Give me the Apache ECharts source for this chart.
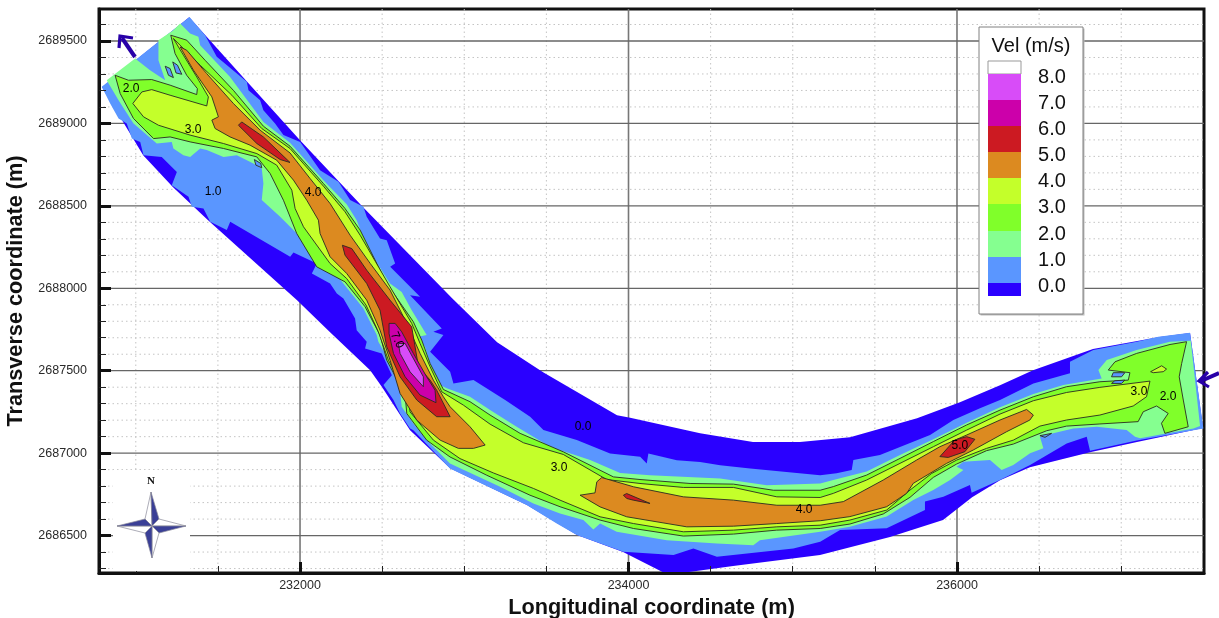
<!DOCTYPE html>
<html><head><meta charset="utf-8">
<style>html,body{margin:0;padding:0;background:#fff}#c{width:1219px;height:618px}</style>
<script src="https://cdn.jsdelivr.net/npm/echarts@6/dist/echarts.min.js"></script>
</head><body><div id="c"></div>
<script>
const xMajor=[232000,234000,236000];
const xMinor=[231000,231500,232500,233000,233500,234500,235000,235500,236500,237000];
const yMajor=[2686500,2687000,2687500,2688000,2688500,2689000,2689500];
const yMinor=[2686300,2686400,2686600,2686700,2686800,2686900,2687100,2687200,2687300,2687400,2687600,2687700,2687800,2687900,2688100,2688200,2688300,2688400,2688600,2688700,2688800,2688900,2689100,2689200,2689300,2689400,2689600];
const levelLabels=['0.0','1.0','2.0','3.0','4.0','5.0','6.0','7.0','8.0'];
const levelColors=['#2a00ff','#5a96ff','#85ff90','#80ff2a','#c4ff2a','#dc8a20','#cc1a22','#cc00aa','#d84cf8'];

const contour0=[[230795,2689219],[231325,2689644],[231678,2689252],[232000,2688898],[232384,2688492],[232926,2687940],[233200,2687673],[233480,2687491],[233930,2687230],[234010,2687215],[234436,2687121],[234758,2687067],[235044,2687067],[235349,2687097],[235757,2687212],[236018,2687309],[236262,2687412],[236463,2687503],[236828,2687631],[237224,2687703],[237419,2687728],[237498,2687152],[237096,2687067],[236810,2687006],[236444,2686915],[236262,2686836],[236092,2686733],[235915,2686594],[235592,2686491],[235166,2686382],[234637,2686315],[234357,2686278],[234210,2686278],[233967,2686400],[233687,2686503],[233382,2686685],[232914,2686909],[232670,2687139],[232500,2687400],[232427,2687503],[232183,2687734],[231982,2687928],[231440,2688413],[231227,2688613],[231045,2688807]];

const contour1=[[230793,2689222],[231327,2689646],[231422,2689535],[231493,2689404],[231676,2689252],[231686,2689201],[231757,2689141],[231777,2689080],[231848,2688999],[231899,2688929],[232001,2688888],[232122,2688716],[232234,2688646],[232305,2688535],[232386,2688494],[232406,2688434],[232487,2688302],[232528,2688292],[232579,2688150],[232549,2688130],[232731,2687949],[232670,2687958],[232863,2687756],[232812,2687736],[232873,2687716],[232792,2687615],[232914,2687494],[232934,2687423],[233056,2687443],[233249,2687322],[233401,2687221],[233482,2687140],[233685,2687079],[233888,2686998],[234071,2686978],[234111,2686937],[234121,2686998],[234294,2686957],[234436,2686947],[234558,2686927],[234741,2686907],[235167,2686866],[235267,2686878],[235359,2686898],[235369,2686959],[235531,2686989],[235836,2687110],[235978,2687201],[236140,2687272],[236262,2687322],[236465,2687423],[236688,2687484],[236688,2687554],[236830,2687625],[237094,2687676],[237226,2687706],[237419,2687730],[237500,2687150],[237094,2687076],[236810,2687015],[236790,2687100],[236668,2687059],[236445,2686928],[236262,2686837],[236089,2686760],[236079,2686807],[235917,2686736],[235805,2686706],[235805,2686655],[235572,2686544],[235288,2686534],[235167,2686462],[235004,2686422],[234538,2686371],[234395,2686422],[234274,2686382],[233969,2686402],[233685,2686503],[233563,2686574],[233380,2686685],[232913,2686907],[232690,2687139],[232670,2687150],[232609,2687241],[232569,2687322],[232508,2687413],[232559,2687473],[232498,2687605],[232396,2687635],[232406,2687675],[232345,2687746],[232335,2687817],[232264,2687938],[232224,2687969],[232183,2688029],[232072,2688090],[232102,2688151],[231960,2688217],[231940,2688191],[231575,2688403],[231554,2688353],[231453,2688403],[231412,2688484],[231341,2688494],[231321,2688555],[231219,2688625],[231250,2688706],[231158,2688797],[231047,2688807],[231027,2688888],[230976,2688908],[230945,2688999],[230895,2689030],[230844,2689121]];

const contour2=[[230823,2689262],[230996,2689393],[231087,2689323],[231179,2689262],[231138,2689383],[231138,2689504],[231229,2689565],[231270,2689606],[231331,2689545],[231381,2689525],[231392,2689474],[231574,2689282],[231777,2689009],[231939,2688882],[232142,2688656],[232284,2688510],[232345,2688413],[232406,2688252],[232548,2688029],[232619,2687978],[232680,2687867],[232741,2687766],[232771,2687716],[232721,2687706],[232761,2687645],[232792,2687544],[232853,2687413],[232893,2687393],[233035,2687342],[233157,2687261],[233319,2687160],[233522,2687039],[233766,2686958],[233949,2686880],[234131,2686866],[234558,2686846],[234842,2686806],[235167,2686816],[235247,2686837],[235450,2686888],[235653,2686989],[235856,2687084],[236059,2687185],[236262,2687278],[236465,2687358],[236648,2687413],[236881,2687453],[236861,2687504],[236912,2687565],[237094,2687625],[237297,2687676],[237423,2687682],[237480,2687164],[237440,2687150],[237115,2687090],[237084,2687100],[237033,2687140],[236851,2687160],[236708,2687150],[236586,2687120],[236505,2687100],[236526,2687029],[236445,2686999],[236343,2686928],[236272,2686898],[236201,2686958],[236039,2686948],[235998,2686918],[236039,2686898],[235958,2686837],[235856,2686776],[235734,2686716],[235572,2686615],[235348,2686554],[235167,2686523],[234800,2686472],[234760,2686442],[234538,2686452],[234233,2686472],[233928,2686523],[233827,2686573],[233786,2686537],[233725,2686594],[233583,2686634],[233421,2686695],[233218,2686796],[232913,2686937],[232792,2687058],[232690,2687180],[232619,2687281],[232609,2687382],[232660,2687362],[232569,2687524],[232518,2687605],[232477,2687675],[232467,2687716],[232386,2687877],[232264,2688029],[232183,2688130],[232061,2688252],[231879,2688434],[231767,2688535],[231777,2688636],[231767,2688726],[231716,2688757],[231615,2688807],[231534,2688797],[231432,2688838],[231392,2688848],[231331,2688797],[231290,2688807],[231229,2688848],[231219,2688888],[231128,2688878],[230986,2688999],[230895,2689141]];

const contour3=[[230874,2689292],[230955,2689262],[231097,2689266],[231209,2689232],[231371,2689175],[231375,2689211],[231310,2689292],[231239,2689424],[231213,2689535],[231310,2689505],[231422,2689383],[231594,2689201],[231777,2688983],[231939,2688862],[232142,2688636],[232274,2688484],[232366,2688353],[232528,2688029],[232690,2687797],[232741,2687686],[232792,2687544],[232873,2687386],[233035,2687312],[233157,2687231],[233340,2687120],[233603,2687008],[233908,2686856],[234070,2686840],[234375,2686816],[234639,2686812],[234882,2686775],[235167,2686775],[235247,2686797],[235450,2686867],[235653,2686968],[235856,2687070],[236059,2687171],[236262,2687261],[236465,2687342],[236667,2687403],[236870,2687433],[237043,2687443],[237053,2687488],[236921,2687504],[236962,2687554],[237094,2687605],[237297,2687659],[237398,2687676],[237368,2687544],[237353,2687463],[237378,2687322],[237408,2687160],[237266,2687120],[237245,2687181],[237286,2687241],[237215,2687286],[237134,2687251],[237103,2687191],[236870,2687177],[236667,2687164],[236546,2687136],[236343,2687055],[236180,2687015],[235998,2686934],[235856,2686853],[235714,2686732],[235551,2686631],[235348,2686570],[235167,2686543],[234902,2686533],[234639,2686509],[234334,2686497],[234030,2686543],[233827,2686594],[233583,2686675],[233400,2686745],[233137,2686866],[232913,2686977],[232771,2687079],[232650,2687240],[232640,2687352],[232528,2687564],[232487,2687716],[232396,2687888],[232274,2688039],[232102,2688130],[231980,2688332],[231899,2688534],[231818,2688696],[231737,2688797],[231534,2688848],[231331,2688888],[231209,2688918],[231108,2688908],[230986,2689030],[230905,2689181]];

const contour4=[[230982,2689121],[231037,2689191],[231097,2689205],[231209,2689171],[231432,2689106],[231442,2689161],[231371,2689282],[231290,2689414],[231229,2689515],[231392,2689353],[231585,2689171],[231767,2688969],[231939,2688848],[232142,2688620],[232274,2688464],[232366,2688322],[232548,2688009],[232680,2687787],[232731,2687665],[232792,2687524],[232863,2687372],[232995,2687291],[233157,2687176],[233360,2687063],[233603,2686992],[233867,2686840],[234070,2686816],[234334,2686792],[234639,2686792],[234903,2686735],[235167,2686731],[235247,2686756],[235450,2686837],[235653,2686938],[235856,2687039],[236059,2687140],[236262,2687237],[236465,2687318],[236667,2687368],[236870,2687399],[237175,2687437],[237154,2687342],[237073,2687286],[236870,2687231],[236667,2687201],[236505,2687164],[236343,2687079],[236180,2687029],[235998,2686958],[235846,2686877],[235714,2686776],[235572,2686655],[235348,2686594],[235167,2686563],[234903,2686553],[234639,2686533],[234334,2686523],[234030,2686573],[233827,2686614],[233583,2686715],[233421,2686786],[233177,2686880],[232974,2686967],[232812,2687079],[232670,2687250],[232660,2687342],[232538,2687564],[232477,2687736],[232402,2687898],[232284,2688059],[232183,2688150],[232021,2688373],[231970,2688484],[231950,2688595],[231858,2688747],[231737,2688817],[231534,2688878],[231331,2688929],[231138,2688989],[231047,2689040]];
const contour4b=[[237179,2687494],[237246,2687530],[237276,2687510],[237256,2687494],[237195,2687488]];

const contour5a=[[231270,2689464],[231310,2689444],[231432,2689302],[231594,2689121],[231757,2688959],[231939,2688821],[232061,2688666],[232183,2688514],[232305,2688322],[232427,2688151],[232548,2687989],[232650,2687787],[232731,2687605],[232812,2687443],[232873,2687342],[232914,2687281],[233035,2687160],[233127,2687049],[233056,2687029],[232964,2687029],[232853,2687079],[232711,2687200],[232609,2687362],[232548,2687564],[232487,2687746],[232406,2687928],[232284,2688090],[232183,2688191],[232122,2688332],[232112,2688413],[232041,2688534],[231960,2688656],[231858,2688777],[231696,2688868],[231574,2688918],[231483,2688969],[231463,2689020],[231503,2689040],[231463,2689161],[231351,2689323]];
const contour5b=[[233837,2686852],[234030,2686796],[234334,2686735],[234639,2686715],[234903,2686684],[235167,2686684],[235308,2686706],[235551,2686837],[235754,2686958],[235896,2687039],[236059,2687110],[236262,2687201],[236424,2687265],[236465,2687231],[236444,2687201],[236302,2687130],[236099,2687019],[235937,2686938],[235835,2686877],[235734,2686817],[235693,2686756],[235572,2686675],[235348,2686615],[235167,2686590],[234903,2686573],[234639,2686557],[234355,2686553],[233989,2686614],[233827,2686674],[233705,2686745],[233796,2686759],[233807,2686826]];

const contour6a=[[231625,2688989],[231645,2689009],[231777,2688918],[231939,2688763],[231879,2688781],[231737,2688878]];
const contour6b=[[232258,2688261],[232315,2688241],[232406,2688110],[232548,2687928],[232680,2687766],[232721,2687524],[232792,2687443],[232832,2687382],[232914,2687221],[232832,2687221],[232711,2687322],[232609,2687463],[232528,2687645],[232487,2687867],[232406,2688029],[232274,2688201]];
const contour6c=[[233969,2686745],[233989,2686755],[234131,2686695],[234029,2686715],[233989,2686725]];
const contour6d=[[235896,2686979],[235987,2687080],[236059,2687100],[236109,2687084],[236048,2687009],[235947,2686974]];
const contour7=[[232542,2687787],[232579,2687787],[232619,2687736],[232690,2687605],[232771,2687463],[232822,2687382],[232828,2687306],[232731,2687352],[232640,2687463],[232569,2687605],[232542,2687726]];
const contour8=[[232640,2687665],[232751,2687463],[232751,2687403],[232670,2687493],[232609,2687605],[232599,2687665]];

const pocket1a=[[231179,2689347],[231209,2689333],[231229,2689278],[231199,2689292]];
const pocket1b=[[231225,2689373],[231254,2689353],[231280,2689298],[231245,2689306]];
const pocket1c=[[231722,2688781],[231761,2688757],[231767,2688731],[231731,2688747]];
const pocket1d=[[236951,2687488],[237022,2687488],[237002,2687463],[236941,2687463]];
const pocket1e=[[236961,2687439],[237022,2687443],[237002,2687423],[236941,2687423]];
const pocket1f=[[236505,2687106],[236576,2687120],[236536,2687096]];

const labelPoints=[[230972,2689213],[231349,2688959],[231471,2688583],[232080,2688577],[232591,2687685],[233723,2687158],[233577,2686909],[235069,2686654],[236018,2687048],[237108,2687370],[237285,2687340]];
const labelTexts=['2.0','3.0','1.0','4.0','7.0','0.0','3.0','4.0','5.0','3.0','2.0'];
const labelRotations=[0,0,0,0,-65,0,0,0,0,0,0];

const xMin=230776,xMax=237504,yMin=2686273,yMax=2689694;

const layers=[
 [contour0,0,false],[contour1,1,false],[contour2,2,false],
 [contour3,3,true],[contour4,4,true],[contour4b,4,true],
 [contour5a,5,true],[contour5b,5,true],
 [contour6a,6,true],[contour6b,6,true],[contour6c,6,true],[contour6d,6,true],
 [contour7,7,true],[contour8,8,true],
 [pocket1a,1,true],[pocket1b,1,true],[pocket1c,1,true],[pocket1d,1,true],[pocket1e,1,true],[pocket1f,1,true]
];

const chart=echarts.init(document.getElementById('c'),null,{renderer:'canvas'});

function polySeries(pts,colorIdx,stroke){
  return {type:'custom',silent:true,clip:true,z:3,coordinateSystem:'cartesian2d',xAxisIndex:0,yAxisIndex:0,
    data:[pts[0]],encode:{x:0,y:1},animation:false,
    renderItem:(p,api)=>({type:'polygon',shape:{points:pts.map(q=>api.coord(q))},
      style:{fill:levelColors[colorIdx],stroke:stroke?'#2a2a20':null,lineWidth:stroke?0.9:0}})};
}
function gridSeries(vals,isX,style,z){
  return {type:'custom',silent:true,z:z,xAxisIndex:0,yAxisIndex:0,animation:false,
    data:vals.map(v=>isX?[v,yMin]:[xMin,v]),encode:{x:0,y:1},
    renderItem:(p,api)=>{
      const a=api.coord([api.value(0),api.value(1)]);
      const b=isX?api.coord([api.value(0),yMax]):api.coord([xMax,api.value(1)]);
      return {type:'line',shape:{x1:a[0],y1:a[1],x2:b[0],y2:b[1]},style:style};
    }};
}
const minorStyle={stroke:'#c4c4c4',lineWidth:1,lineDash:[1.5,3]};
const majorStyleX={stroke:'#777',lineWidth:1.6};
const majorStyleY={stroke:'#666',lineWidth:1.3};

const series=[
 gridSeries(xMinor,true,minorStyle,1),gridSeries(yMinor,false,minorStyle,1),
 gridSeries(xMajor,true,majorStyleX,2),gridSeries(yMajor,false,majorStyleY,2)
].concat(layers.map(l=>polySeries(l[0],l[1],l[2])));
series.push({type:'scatter',z:6,silent:true,symbolSize:2,itemStyle:{color:'rgba(0,0,0,0)'},animation:false,xAxisIndex:0,yAxisIndex:0,
  data:labelPoints.map((p,i)=>({value:p,label:{show:true,position:'inside',formatter:labelTexts[i],rotate:labelRotations[i],
     color:'#000',opacity:1,fontSize:12,fontFamily:'"Liberation Sans"'}}))});

// legend
const boxX=979,boxY=27,boxW=104,boxH=287;
const cellX=988,cellW=33;
const cellTops=[283,257,231,204,178,152,126,100,74];
const cellBottoms=[296,283,257,231,204,178,152,126,100];
const legend=[
 {type:'rect',shape:{x:boxX+1.5,y:boxY+1.5,width:boxW,height:boxH},style:{fill:'#bbb'},z:20},
 {type:'rect',shape:{x:boxX,y:boxY,width:boxW,height:boxH},style:{fill:'#fff',stroke:'#808080',lineWidth:1},z:21},
 {type:'text',x:boxX+52,y:46,style:{text:'Vel (m/s)',fill:'#111',font:'20px "Liberation Sans"',textAlign:'center',textVerticalAlign:'middle'},z:22},
 {type:'rect',shape:{x:cellX,y:61,width:cellW,height:13},style:{fill:'#fff',stroke:'#999',lineWidth:1},z:22}
];
levelColors.forEach((c,i)=>{
  legend.push({type:'rect',shape:{x:cellX,y:cellTops[i],width:cellW,height:cellBottoms[i]-cellTops[i]},style:{fill:c},z:22});
  legend.push({type:'text',x:1052,y:cellTops[i]+3,style:{text:levelLabels[i],fill:'#111',font:'20px "Liberation Sans"',textAlign:'center',textVerticalAlign:'middle'},z:22});
});

// compass
const cx=152,cy=526,far=35,near=7,navy='#3a3f96',pale='#ffffff',edge='#8a8a9a';
function tri(a,b,c,fill){return {type:'polygon',shape:{points:[a,b,c]},style:{fill:fill,stroke:edge,lineWidth:0.7},z:12};}
const C=[cx,cy],N=[cx-1,cy-34],S=[cx,cy+32],W=[cx-far,cy],E=[cx+far-1,cy];
const ne=[cx+near,cy-near],se=[cx+near,cy+near],sw=[cx-near,cy+near],nw=[cx-near,cy-near];
const compass=[
 {type:'rect',shape:{x:113,y:470,width:77,height:101},style:{fill:'#fff'},z:11},
 tri(C,N,nw,pale),tri(C,N,ne,navy),
 tri(C,E,ne,pale),tri(C,E,se,navy),
 tri(C,S,se,pale),tri(C,S,sw,navy),
 tri(C,W,sw,pale),tri(C,W,nw,navy),
 {type:'text',x:151,y:481,style:{text:'N',fill:'#111',font:'bold 11px "Liberation Serif"',textAlign:'center',textVerticalAlign:'middle'},z:12}
];
// flow arrows
const arrow='#2800a8';
const arrows=[
 {type:'polyline',shape:{points:[[135,57],[122,38]]},style:{stroke:arrow,lineWidth:4,fill:null},z:13},
 {type:'polyline',shape:{points:[[119,48],[120,36],[133,38]]},style:{stroke:arrow,lineWidth:3.2,fill:null},z:13},
 {type:'polyline',shape:{points:[[1219,373],[1201,381]]},style:{stroke:arrow,lineWidth:4,fill:null},z:13},
 {type:'polyline',shape:{points:[[1208,372],[1199,381],[1209,387]]},style:{stroke:arrow,lineWidth:3.2,fill:null},z:13}
];

const tickFont={color:'#2a2a2a',fontSize:12.5,fontFamily:'"Liberation Sans"'};
chart.setOption({
 animation:false,backgroundColor:'#fff',
 grid:{left:99,right:15,top:9,bottom:45,show:true,backgroundColor:'#fff',borderColor:'#111',borderWidth:3,outerBoundsMode:'none',containLabel:false},
 xAxis:[
  {type:'value',min:xMin,max:xMax,position:'bottom',name:'Longitudinal coordinate (m)',nameLocation:'middle',nameGap:24,
   nameTextStyle:{color:'#111',fontSize:21.7,fontWeight:'bold',fontFamily:'"Liberation Sans"'},
   axisLine:{show:true,lineStyle:{color:'#111',width:3}},
   axisTick:{show:true,inside:true,length:11,lineStyle:{color:'#111',width:3},customValues:xMajor},
   axisLabel:{show:true,margin:6,customValues:xMajor,formatter:v=>String(v),...tickFont},
   splitLine:{show:false},z:8},
  {type:'value',min:xMin,max:xMax,position:'bottom',
   axisLine:{show:false},axisTick:{show:true,inside:true,length:7,lineStyle:{color:'#222',width:1},customValues:xMinor},
   axisLabel:{show:false},splitLine:{show:false},z:8}
 ],
 yAxis:[
  {type:'value',min:yMin,max:yMax,position:'left',name:'Transverse coordinate (m)',nameLocation:'middle',nameGap:63,
   nameTextStyle:{color:'#111',fontSize:21.7,fontWeight:'bold',fontFamily:'"Liberation Sans"'},
   axisLine:{show:true,lineStyle:{color:'#111',width:3}},
   axisTick:{show:true,inside:true,length:12,lineStyle:{color:'#111',width:3},customValues:yMajor},
   axisLabel:{show:true,margin:12,customValues:yMajor,formatter:v=>String(v),...tickFont},
   splitLine:{show:false},z:8},
  {type:'value',min:yMin,max:yMax,position:'left',
   axisLine:{show:false},axisTick:{show:true,inside:true,length:7,lineStyle:{color:'#222',width:1},customValues:yMinor},
   axisLabel:{show:false},splitLine:{show:false},z:8}
 ],
 series:series,
 graphic:{elements:legend.concat(compass,arrows)}
});
</script></body></html>
